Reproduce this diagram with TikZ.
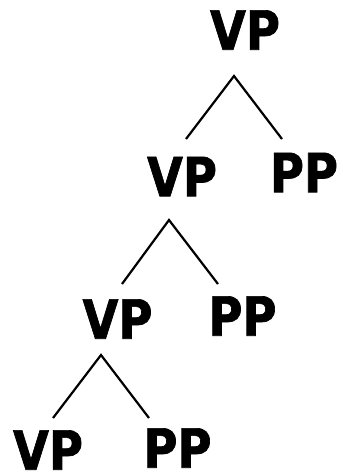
\documentclass[tikz,border=0pt]{standalone}
\usepackage{fontspec}
\newfontfamily\treefont[FakeStretch=0.86,FakeBold=1.2]{DejaVu Sans}
\begin{document}
\begin{tikzpicture}[x=1pt,y=-1pt,
    cat/.style={font=\treefont\bfseries\fontsize{54}{54}\selectfont, inner sep=0pt},
    branch/.style={line width=2.2pt}]
  \useasboundingbox (0,0) rectangle (343,472);
  % categories
  \node[cat] (vpA) at (245,30) {VP};
  \node[cat] (vpB) at (182,176.5) {VP};
  \node[cat] (ppB) at (304,172.5) {PP};
  \node[cat] (vpC) at (117.5,319) {VP};
  \node[cat] (ppC) at (242.5,316) {PP};
  \node[cat] (vpD) at (48,450) {VP};
  \node[cat] (ppD) at (177.5,448) {PP};
  % branch points
  \coordinate (topA) at (234,76);
  \coordinate (leftA) at (186,139);
  \coordinate (rightA) at (282,139);
  \coordinate (topB) at (169,220);
  \coordinate (leftB) at (122,284);
  \coordinate (rightB) at (218,284);
  \coordinate (topC) at (101,355);
  \coordinate (leftC) at (53,418);
  \coordinate (rightC) at (149,418);
  \draw[branch] (leftA) -- (topA) -- (rightA);
  \draw[branch] (leftB) -- (topB) -- (rightB);
  \draw[branch] (leftC) -- (topC) -- (rightC);
\end{tikzpicture}
\end{document}
